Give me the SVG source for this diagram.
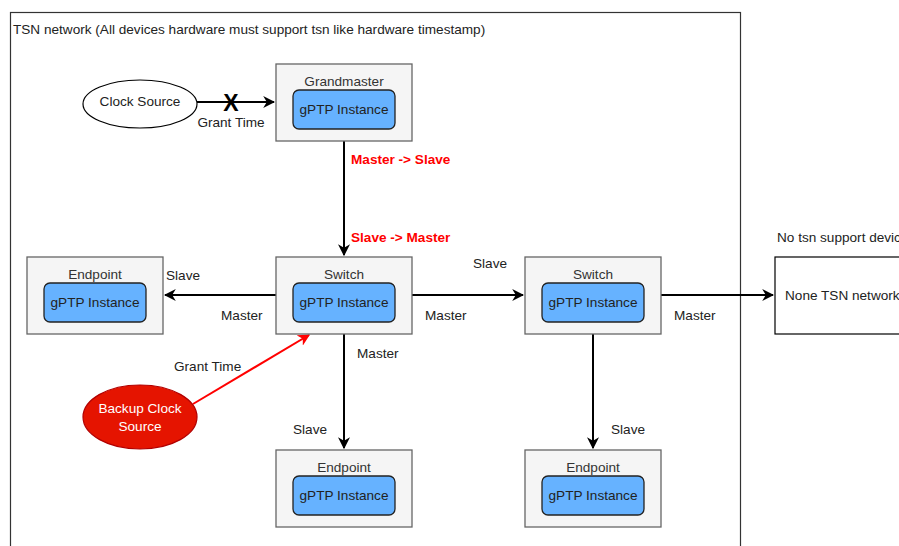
<svg xmlns="http://www.w3.org/2000/svg" width="899" height="546" viewBox="0 0 899 546">
  <style>
    text { font-family: "Liberation Sans", Arial, sans-serif; font-size: 13.6px; fill: #222; }
    .outer { fill: #f5f5f5; stroke: #666; stroke-width: 1.3; }
    .inst { fill: #66b2ff; stroke: #222; stroke-width: 1.3; }
    .title { fill: #333; }
    .c { text-anchor: middle; }
    .red { fill: #ff0000; font-weight: bold; }
    .edge { stroke: #000; stroke-width: 2; fill: none; }
    .edge-red { stroke: #ff0000; stroke-width: 2; fill: none; }
  </style>
  <defs>
    <marker id="arr" viewBox="0 0 10 10" refX="9" refY="5" markerWidth="6" markerHeight="6" markerUnits="strokeWidth" orient="auto">
      <path d="M0,0 L10,5 L0,10 L3,5 z" fill="#000"/>
    </marker>
    <marker id="arr-red" viewBox="0 0 10 10" refX="9" refY="5" markerWidth="6" markerHeight="6" markerUnits="strokeWidth" orient="auto">
      <path d="M0,0 L10,5 L0,10 L3,5 z" fill="#ff0000"/>
    </marker>
  </defs>

  <rect width="899" height="546" fill="#fff"/>

  <!-- TSN network frame -->
  <g id="tsn-frame">
    <rect x="10.5" y="12.5" width="730" height="545" fill="none" stroke="#333" stroke-width="1.2"/>
    <text x="13" y="34">TSN network (All devices hardware must support tsn like hardware timestamp)</text>
  </g>

  <!-- connectors -->
  <g id="connectors">
    <line class="edge" x1="197" y1="102" x2="274" y2="102" marker-end="url(#arr)"/>
    <line class="edge" x1="344" y1="141" x2="344" y2="255" marker-end="url(#arr)"/>
    <line class="edge" x1="276" y1="295" x2="165" y2="295" marker-end="url(#arr)"/>
    <line class="edge" x1="412" y1="295" x2="523" y2="295" marker-end="url(#arr)"/>
    <line class="edge" x1="661" y1="295" x2="773" y2="295" marker-end="url(#arr)"/>
    <line class="edge" x1="344" y1="334" x2="344" y2="448" marker-end="url(#arr)"/>
    <line class="edge" x1="593" y1="334" x2="593" y2="448" marker-end="url(#arr)"/>
    <line class="edge-red" x1="193" y1="404" x2="309" y2="335" marker-end="url(#arr-red)"/>

    <text x="231" y="111" class="c" style="font-size:23px;font-weight:bold;fill:#000">X</text>
    <text x="231" y="127" class="c">Grant Time</text>
    <text x="351" y="164" class="red">Master -&gt; Slave</text>
    <text x="351" y="242" class="red">Slave -&gt; Master</text>
    <text x="166" y="280">Slave</text>
    <text x="221" y="320">Master</text>
    <text x="473" y="268">Slave</text>
    <text x="425" y="320">Master</text>
    <text x="674" y="320">Master</text>
    <text x="357" y="358">Master</text>
    <text x="293" y="434">Slave</text>
    <text x="611" y="434">Slave</text>
    <text x="174" y="371">Grant Time</text>
  </g>

  <!-- Clock Source -->
  <g id="clock-source">
    <ellipse cx="140" cy="104" rx="57" ry="24" fill="#fff" stroke="#000" stroke-width="1.2"/>
    <text x="140" y="106" class="c">Clock Source</text>
  </g>

  <!-- Backup Clock Source -->
  <g id="backup-clock-source">
    <ellipse cx="140" cy="417" rx="57" ry="32" fill="#e51400" stroke="#b20000" stroke-width="1.2"/>
    <text x="140" y="413" class="c" style="fill:#fff">Backup Clock</text>
    <text x="140" y="431" class="c" style="fill:#fff">Source</text>
  </g>

  <!-- Grandmaster -->
  <g id="grandmaster">
    <rect class="outer" x="276" y="64" width="136" height="77"/>
    <text x="344" y="86" class="c title">Grandmaster</text>
    <rect class="inst" x="293" y="90" width="102" height="39" rx="6"/>
    <text x="344" y="114" class="c">gPTP Instance</text>
  </g>

  <!-- Switch 1 -->
  <g id="switch-1">
    <rect class="outer" x="276" y="257" width="136" height="77"/>
    <text x="344" y="279" class="c title">Switch</text>
    <rect class="inst" x="293" y="283" width="102" height="39" rx="6"/>
    <text x="344" y="307" class="c">gPTP Instance</text>
  </g>

  <!-- Endpoint left -->
  <g id="endpoint-left">
    <rect class="outer" x="27" y="257" width="136" height="77"/>
    <text x="95" y="279" class="c title">Endpoint</text>
    <rect class="inst" x="44" y="283" width="102" height="39" rx="6"/>
    <text x="95" y="307" class="c">gPTP Instance</text>
  </g>

  <!-- Switch 2 -->
  <g id="switch-2">
    <rect class="outer" x="525" y="257" width="136" height="77"/>
    <text x="593" y="279" class="c title">Switch</text>
    <rect class="inst" x="542" y="283" width="102" height="39" rx="6"/>
    <text x="593" y="307" class="c">gPTP Instance</text>
  </g>

  <!-- Endpoint below Switch 1 -->
  <g id="endpoint-bottom-1">
    <rect class="outer" x="276" y="450" width="136" height="77"/>
    <text x="344" y="472" class="c title">Endpoint</text>
    <rect class="inst" x="293" y="476" width="102" height="39" rx="6"/>
    <text x="344" y="500" class="c">gPTP Instance</text>
  </g>

  <!-- Endpoint below Switch 2 -->
  <g id="endpoint-bottom-2">
    <rect class="outer" x="525" y="450" width="136" height="77"/>
    <text x="593" y="472" class="c title">Endpoint</text>
    <rect class="inst" x="542" y="476" width="102" height="39" rx="6"/>
    <text x="593" y="500" class="c">gPTP Instance</text>
  </g>

  <!-- Non-TSN network -->
  <g id="non-tsn">
    <text x="777" y="242">No tsn support devices</text>
    <rect x="775" y="257" width="140" height="77" fill="#fff" stroke="#000" stroke-width="1.2"/>
    <text x="785" y="300">None TSN network</text>
  </g>
</svg>
